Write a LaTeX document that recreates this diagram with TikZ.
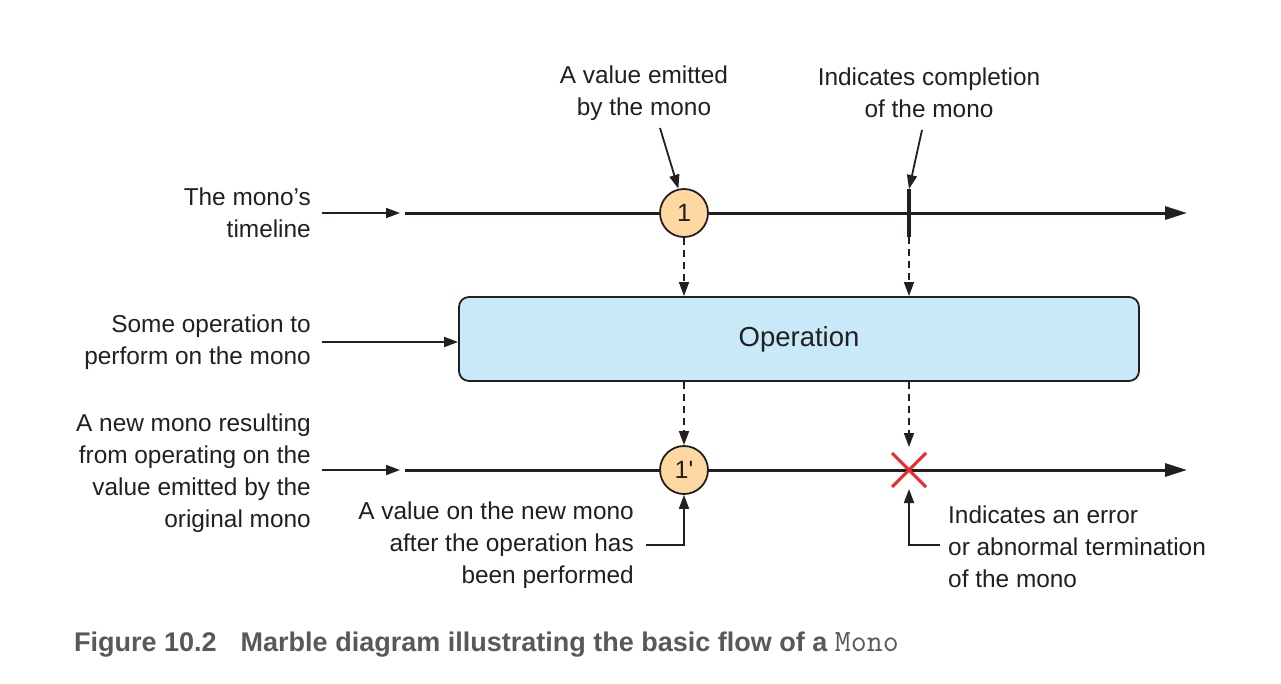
\documentclass[tikz,border=0pt]{standalone}
\usepackage{fontspec}
\setmainfont{Liberation Sans}
\newfontfamily\capfont{Liberation Sans}
\usetikzlibrary{arrows.meta}
\definecolor{ink}{HTML}{231F20}
\definecolor{marble}{HTML}{FDD8A0}
\definecolor{opfill}{HTML}{C8E9F8}
\definecolor{capgray}{HTML}{58595B}
\definecolor{xred}{HTML}{EE2A2E}
\tikzset{
  lbl/.style={font=\fontsize{24.4}{32}\selectfont, text=ink, inner sep=0pt},
  tip/.style={-{Triangle[length=14pt,width=10pt]}},
  bigtip/.style={-{Triangle[length=22pt,width=13pt]}},
  timeline/.style={draw=ink, line width=3pt, bigtip},
  note/.style={draw=ink, line width=1.8pt, tip},
  dasharrow/.style={draw=ink, line width=1.8pt, dash pattern=on 7pt off 5pt, tip},
  marblenode/.style={circle, draw=ink, line width=1.8pt, fill=marble, minimum size=48pt, inner sep=0pt, font=\fontsize{25}{26}\selectfont, text=ink},
}
\begin{document}
\begin{tikzpicture}[x=1pt,y=-1pt]
\useasboundingbox[fill=white] (0,0) rectangle (1281,683);

% top timeline
\coordinate (t1s) at (405,213);
\coordinate (t1e) at (1187,213);
\draw[timeline] (t1s) -- (t1e);
\node[marblenode] (m1) at (684,213) {1};
\coordinate (ctop) at (909,189);
\coordinate (cbot) at (909,237);
\draw[draw=ink, line width=4.5pt] (ctop) -- (cbot);

% top labels
\node[lbl, align=center] (lv) at (644,93) {A value emitted\\by the mono};
\node[lbl, align=center] (lc) at (929,93) {Indicates completion\\of the mono};
\coordinate (lvs) at (660,128);
\coordinate (lcs) at (922,130);
\draw[note] (lvs) -- (m1.103);
\draw[note] (lcs) -- (ctop);

% left label top
\node[lbl, align=right, anchor=east] (ltl) at (311,213) {The mono's\\timeline};
\coordinate (in1s) at (322,213);
\coordinate (in1e) at (400,213);
\draw[note] (in1s) -- (in1e);

% operation box
\node[draw=ink, line width=1.8pt, fill=opfill, rounded corners=10pt, minimum width=680pt, minimum height=84pt, inner sep=0pt, font=\fontsize{27.5}{30}\selectfont, text=ink] (op) at (799,339) {Operation};

\draw[dasharrow] (m1.south) -- (684,296);
\draw[dasharrow] (cbot) -- (909,296);

\node[lbl, align=right, anchor=east] (lop) at (311,342) {Some operation to\\perform on the mono};
\coordinate (in2s) at (322,342);
\draw[note] (in2s) -- (op.west |- in2s);

% bottom timeline
\coordinate (t2s) at (405,470);
\coordinate (t2e) at (1187,470);
\draw[timeline] (t2s) -- (t2e);
\node[marblenode] (m2) at (684,470) {1\textquotesingle};
\coordinate (xc) at (909,470);
\draw[xred, line width=3pt] (892,453) -- (926,487) (892,487) -- (926,453);

\draw[dasharrow] (op.south -| m1) -- (m2.north);
\draw[dasharrow] (op.south -| xc) -- (909,447);

\node[lbl, align=right, anchor=east] (lnew) at (311,473) {A new mono resulting\\from operating on the\\value emitted by the\\original mono};
\coordinate (in3s) at (322,470);
\coordinate (in3e) at (400,470);
\draw[note] (in3s) -- (in3e);

\node[lbl, align=right, anchor=east] (lval) at (634,545) {A value on the new mono\\after the operation has\\been performed};
\coordinate (lvalc) at (646,545);
\draw[note] (lvalc) -- (684,545) -- (m2.south);

\node[lbl, align=left, anchor=west] (lerr) at (948,547) {Indicates an error\\or abnormal termination\\of the mono};
\coordinate (lerrc) at (940,545);
\draw[note] (lerrc) -- (909,545) -- (909,489);

% caption
\node[anchor=west, inner sep=0pt, text=capgray, font=\fontsize{27}{30}\selectfont] (cap) at (74,645) {\capfont\bfseries Figure 10.2\hspace{24pt}Marble diagram illustrating the basic flow of a {\fontsize{31}{30}\selectfont\ttfamily\mdseries Mono}};
\end{tikzpicture}
\end{document}
